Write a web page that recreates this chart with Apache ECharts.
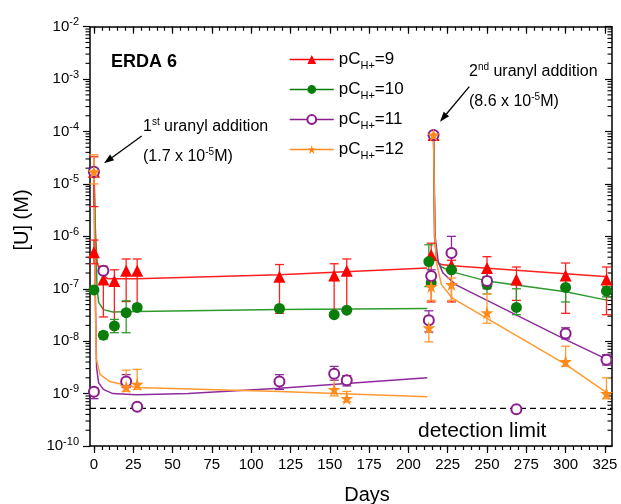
<!DOCTYPE html>
<html><head><meta charset="utf-8">
<script src="https://cdn.jsdelivr.net/npm/echarts@6/dist/echarts.min.js"></script>
<style>html,body{margin:0;padding:0;background:#fff}#c{width:621px;height:504px}</style>
</head><body><div id="c"></div>
<script>
// ---- tick labels ----
const xMajorTicks = [0,25,50,75,100,125,150,175,200,225,250,275,300,325];
const yDecades = [1e-10,1e-9,1e-8,1e-7,1e-6,1e-5,1e-4,1e-3,1e-2];
const legendNames = ['pC9','pC10','pC11','pC12'];
const legendSuffix = ['=9','=10','=11','=12'];

// ---- pC=9 (red) measured ----
const days9 = [0,0,6,13,20.5,27.5,118,152.8,160.8,214.5,216,227.4,250,268.7,300,326];
const u9    = [1.7e-5,5e-7,1.5e-7,1.4e-7,2.2e-7,2.2e-7,1.7e-7,1.8e-7,2.2e-7,4.4e-7,8.6e-5,2.8e-7,2.5e-7,1.5e-7,1.8e-7,1.5e-7];
const lo9   = [3.7e-6,3e-7,2.9e-8,1.7e-8,5.7e-8,4.5e-8,3.4e-8,3.2e-8,3.9e-8,5.6e-8,null,5.6e-8,1.2e-7,6e-8,3.4e-8,3.2e-8];
const hi9   = [3.3e-5,8.5e-7,2.7e-7,2.3e-7,3.7e-7,3.7e-7,2.9e-7,3e-7,3.7e-7,7.4e-7,null,3.5e-7,4.1e-7,2.6e-7,3.1e-7,2.6e-7];
// ---- pC=10 (green) ----
const days10 = [0,0,6,13,20.5,27.5,118,152.8,160.8,213,214.5,216,227.4,250,268.7,300,326];
const u10    = [1.7e-5,9.5e-8,1.3e-8,1.95e-8,3.5e-8,4.4e-8,4.2e-8,3.2e-8,3.9e-8,3.3e-7,1.3e-7,8.6e-5,2.3e-7,1.2e-7,4.4e-8,1.06e-7,9e-8];
const lo10   = [null,null,1.1e-8,1.45e-8,1.45e-8,null,null,null,null,1.1e-7,null,null,null,8e-8,3.2e-8,5.6e-8,7e-8];
const hi10   = [null,null,1.5e-8,2.6e-8,5.9e-8,null,null,null,null,6.9e-7,null,null,null,1.7e-7,1e-7,1.5e-7,1.1e-7];
// ---- pC=11 (purple) ----
const days11 = [0,0,6,20.5,27.5,118,152.8,160.8,213,214.5,216,227.4,250,268.7,300,326];
const u11    = [1.7e-5,1.08e-9,2.2e-7,1.7e-9,5.6e-10,1.7e-9,2.4e-9,1.8e-9,2.5e-8,1.75e-7,8.6e-5,4.8e-7,1.4e-7,5e-10,1.4e-8,4.4e-9];
const lo11   = [null,8e-10,null,1.3e-9,5e-10,1.2e-9,1.8e-9,1.4e-9,1.5e-8,1.3e-7,null,2.3e-7,1e-7,null,1.1e-8,3.5e-9];
const hi11   = [null,1.3e-9,null,2.3e-9,6.2e-10,2.3e-9,3.3e-9,2.2e-9,3.8e-8,2.3e-7,null,1e-6,2e-7,null,1.8e-8,5.5e-9];
// ---- pC=12 (orange) ----
const days12 = [0,20.5,27.5,152.8,160.8,213,214.5,216,227.4,250,300,326];
const u12    = [1.7e-5,1.35e-9,1.5e-9,1.2e-9,8.1e-10,1.8e-8,1.1e-7,8.6e-5,1.2e-7,3.5e-8,4.1e-9,1e-9];
const lo12   = [1e-5,1.1e-9,1.2e-9,9e-10,7e-10,9.7e-9,6e-8,null,6e-8,2.2e-8,3.3e-9,8e-10];
const hi12   = [3.6e-5,2.8e-9,2.9e-9,2.4e-9,1.1e-9,3e-8,1.8e-7,null,1.6e-7,8e-8,8e-9,2e-9];

// ---- model curves ----
const fitA9d = [0,1,2,4,9,27,118,212];
const fitA9u = [1.7e-5,1e-6,3.3e-7,2e-7,1.55e-7,1.55e-7,1.85e-7,2.5e-7];
const fitB9d = [216,216.6,218,221,228,327];
const fitB9u = [8.6e-5,1e-6,3.3e-7,2.9e-7,2.75e-7,1.7e-7];
const fitA10d = [0,1,2,3,6,12,27,118,212];
const fitA10u = [1.7e-5,1e-6,1e-7,5.5e-8,4e-8,3.6e-8,3.7e-8,4e-8,4.2e-8];
const fitB10d = [216,216.8,218,221,228,250,300,327];
const fitB10u = [8.6e-5,1e-6,3.5e-7,2.6e-7,2.1e-7,1.4e-7,8.8e-8,6e-8];
const fitA11d = [0,0.8,1.7,3,6,12,27,60,118,212];
const fitA11u = [1.7e-5,1e-7,3.1e-9,1.6e-9,1.2e-9,1e-9,9.5e-10,1e-9,1.26e-9,2e-9];
const fitB11d = [216,217,219,222,230,300,327];
const fitB11u = [8.6e-5,1e-6,3.2e-7,2e-7,1.2e-7,1.07e-8,4.4e-9];
const fitA12d = [0,0.8,1.5,4,10,27,118,212];
const fitA12u = [1.7e-5,1e-7,4.5e-9,2.3e-9,1.7e-9,1.3e-9,1.1e-9,8.7e-10];
const fitB12d = [216,216.8,218,221,228,300,327];
const fitB12u = [8.6e-5,1e-6,3e-7,1.2e-7,6.6e-8,3.6e-9,1e-9];

const detectionLimit = 5.2e-10;

const C = {
  red:   {m:'#ff0000', l:'#ff2020'},
  green: {m:'#0a7d0a', l:'#2e9a2e'},
  purple:{m:'#8a1c8e', l:'#8e2a9e'},
  orange:{m:'#ff8a1a', l:'#ff9a30'}
};
const STAR = 'path://M50,0 L61,35 L98,35 L68,57 L79,91 L50,70 L21,91 L32,57 L2,35 L39,35 Z';
const FONT = '"Liberation Sans", Arial, sans-serif';

const XMIN = -2.5, XMAX = 329.5;
const YMIN = 0.9999e-10, YMAX = 1.0001e-2;
const GRID = {left:90, right:9, top:26.7, bottom:58};
const W = 621, H = 504;

const zip2 = (a,b) => a.map((v,i)=>[v,b[i]]);
const errRows = (d,lo,hi) => d.map((v,i)=>[v,lo[i],hi[i]]).filter(r=>r[1]!=null);

function errRender(color){
  return function(params, api){
    const x = api.value(0), lo = api.value(1), hi = api.value(2);
    const a = api.coord([x, lo]), b = api.coord([x, hi]);
    const w = 4.5;
    const st = {stroke: color, lineWidth: 1.3};
    return {type:'group', children:[
      {type:'line', shape:{x1:a[0],y1:a[1],x2:b[0],y2:b[1]}, style:st},
      {type:'line', shape:{x1:a[0]-w,y1:a[1],x2:a[0]+w,y2:a[1]}, style:st},
      {type:'line', shape:{x1:b[0]-w,y1:b[1],x2:b[0]+w,y2:b[1]}, style:st}
    ]};
  };
}
function errSeries(d,lo,hi,color){
  return {type:'custom', xAxisIndex:0, yAxisIndex:0, renderItem: errRender(color),
    data: errRows(d,lo,hi), encode:{x:0, y:[1,2]}, z:3, silent:true};
}
function fitSeries(d,u,color){
  return {type:'line', xAxisIndex:0, yAxisIndex:0, data: zip2(d,u), symbol:'none',
    lineStyle:{color:color, width:1.5}, z:2, silent:true, animation:false};
}
function markerSeries(name,d,u,symbol,size,color){
  return {type:'line', name:name, xAxisIndex:0, yAxisIndex:0, data: zip2(d,u),
    symbol: symbol, symbolSize: size, showSymbol:true,
    itemStyle: {color:color, borderWidth:1.5},
    lineStyle:{opacity:0, width:1.5, color:color}, z:4, animation:false};
}

// minor tick values
const xMinorTicks = [];
for (let v = 0; v <= 325; v += 5) xMinorTicks.push(v);
const yMinorTicks = [];
for (let e = -10; e < -2; e++) for (let k = 2; k <= 9; k++) yMinorTicks.push(k * Math.pow(10, e));

const axisLineStyle = {color:'#000', width:1.5};
const tickStyle = {color:'#000', width:1.2};

function xAx(pos, ticks, len, inside, withLine, withLabel){
  return {type:'value', min:XMIN, max:XMAX, position:pos,
    axisLine:{show:withLine, onZero:false, lineStyle:axisLineStyle},
    axisTick:{show:true, inside:inside, length:len, customValues:ticks, lineStyle:tickStyle},
    axisLabel: withLabel ? {show:true, customValues:ticks, fontSize:15, color:'#000', fontFamily:FONT, margin:11} : {show:false},
    splitLine:{show:false}};
}
function yAx(pos, withLabel, inside){
  return {type:'log', logBase:10, min:YMIN, max:YMAX, position:pos,
    axisLine:{show:true, onZero:false, lineStyle:axisLineStyle},
    axisTick:{show:true, inside:inside, length:7, customValues:yDecades, lineStyle:tickStyle},
    axisLabel: withLabel ? {show:true, customValues:yDecades, margin:11, color:'#000',
      formatter: v => '{b|10}{e|' + Math.round(Math.log10(v)) + '}',
      rich:{b:{fontSize:15, fontFamily:FONT, color:'#000'}, e:{fontSize:11, fontFamily:FONT, color:'#000', padding:[0,0,9,0]}}} : {show:false},
    splitLine:{show:false}};
}

const chart = echarts.init(document.getElementById('c'), null, {renderer:'canvas'});

function arrow(x1,y1,x2,y2){
  const ang = Math.atan2(y2-y1, x2-x1), L = 10, Wd = 3.5;
  const bx = x2 - L*Math.cos(ang), by = y2 - L*Math.sin(ang);
  const px = -Math.sin(ang)*Wd, py = Math.cos(ang)*Wd;
  return [
    {type:'line', shape:{x1:x1,y1:y1,x2:bx,y2:by}, style:{stroke:'#000', lineWidth:1.3}},
    {type:'polygon', shape:{points:[[x2,y2],[bx+px,by+py],[bx-px,by-py]]}, style:{fill:'#000'}}
  ];
}
const txt = (x,y,rich,text,opts) => ({type:'text', x:x, y:y, style:Object.assign({text:text, rich:rich, fill:'#000', font:'16px '+FONT, verticalAlign:'middle'}, opts||{})});

const annRich = {n:{fontSize:16, fontFamily:FONT, fill:'#000'}, s:{fontSize:10, fontFamily:FONT, fill:'#000', padding:[0,0,10,0]}};

// log minor tick y position: from the chart's own scale when available, else from the grid geometry
function minorY(v){
  let p = null;
  try { p = chart.convertToPixel({xAxisIndex:0, yAxisIndex:0}, [0, v]); } catch (e) { p = null; }
  if (p && isFinite(p[1]) && p[1] >= GRID.top - 1 && p[1] <= H - GRID.bottom + 1) return p[1];
  const lmin = Math.log10(YMIN), lmax = Math.log10(YMAX);
  return GRID.top + (lmax - Math.log10(v)) / (lmax - lmin) * (H - GRID.top - GRID.bottom);
}

const baseGraphic = [
  txt(111, 62, null, 'ERDA 6', {font:'bold 18px '+FONT}),
  txt(143, 127, annRich, '{n|1}{s|st}{n| uranyl addition}'),
  txt(143, 157, annRich, '{n|(1.7 x 10}{s|-5}{n|M)}'),
  txt(469, 72, annRich, '{n|2}{s|nd}{n| uranyl addition}'),
  txt(469, 102, annRich, '{n|(8.6 x 10}{s|-5}{n|M)}'),
  txt(418, 431, null, 'detection limit', {font:'21px '+FONT}),
  txt(367, 495, null, 'Days', {font:'20px '+FONT, align:'center'}),
  {type:'text', x:22, y:220, rotation:Math.PI/2, style:{text:'[U] (M)', font:'20px '+FONT, fill:'#000', align:'center', verticalAlign:'middle'}},
  ...arrow(141.7,136,104,163.3),
  ...arrow(469.3,86.7,440,121.7)
];

const option = {
  animation:false,
  backgroundColor:'#fff',
  grid:{left:GRID.left, right:GRID.right, top:GRID.top, bottom:GRID.bottom, containLabel:false, show:false},
  xAxis:[
    xAx('bottom', xMajorTicks, 7, false, true, true),
    xAx('bottom', xMinorTicks, 4, false, false, false),
    xAx('top', xMajorTicks, 7, true, true, false),
    xAx('top', xMinorTicks, 4, true, false, false)
  ],
  yAxis:[
    yAx('left', true, false),
    yAx('right', false, true)
  ],
  legend:{
    orient:'vertical', left:284, top:46, itemWidth:44, itemHeight:11, itemGap:9.5,
    data: legendNames.map((n,i)=>({name:n, lineStyle:{opacity:1, width:1.5}})),
    formatter: name => '{p|pC}{s|H+}{p|' + legendSuffix[legendNames.indexOf(name)] + '}',
    textStyle:{rich:{
      p:{fontSize:17, fontFamily:FONT, color:'#000', lineHeight:22},
      s:{fontSize:11, fontFamily:FONT, color:'#000', padding:[13,0,0,0]}
    }},
    selectedMode:false
  },
  series:[
    {type:'line', xAxisIndex:0, yAxisIndex:0, data:[[XMIN, detectionLimit],[XMAX, detectionLimit]], symbol:'none',
     lineStyle:{type:[6,4], color:'#000', width:1.2}, silent:true, z:1},
    fitSeries(fitA9d, fitA9u, C.red.l), fitSeries(fitB9d, fitB9u, C.red.l),
    fitSeries(fitA10d, fitA10u, C.green.l), fitSeries(fitB10d, fitB10u, C.green.l),
    fitSeries(fitA11d, fitA11u, C.purple.l), fitSeries(fitB11d, fitB11u, C.purple.l),
    fitSeries(fitA12d, fitA12u, C.orange.l), fitSeries(fitB12d, fitB12u, C.orange.l),
    errSeries(days9, lo9, hi9, C.red.l),
    errSeries(days10, lo10, hi10, C.green.l),
    errSeries(days11, lo11, hi11, C.purple.l),
    errSeries(days12, lo12, hi12, C.orange.l),
    markerSeries('pC9', days9, u9, 'triangle', 12, C.red.m),
    markerSeries('pC10', days10, u10, 'circle', 11, C.green.m),
    markerSeries('pC11', days11, u11, 'emptyCircle', 10, C.purple.m),
    markerSeries('pC12', days12, u12, STAR, 13, C.orange.m)
  ],
  graphic: baseGraphic
};
chart.setOption(option);

const minorGraphic = [];
const xl = GRID.left, xr = W - GRID.right;
yMinorTicks.forEach(v => {
  const y = minorY(v);
  minorGraphic.push({type:'line', shape:{x1:xl-4.5, y1:y, x2:xl, y2:y}, style:{stroke:'#000', lineWidth:1.1}});
  minorGraphic.push({type:'line', shape:{x1:xr-4.5, y1:y, x2:xr, y2:y}, style:{stroke:'#000', lineWidth:1.1}});
});
chart.setOption({graphic: baseGraphic.concat(minorGraphic)});
</script>
</body></html>
